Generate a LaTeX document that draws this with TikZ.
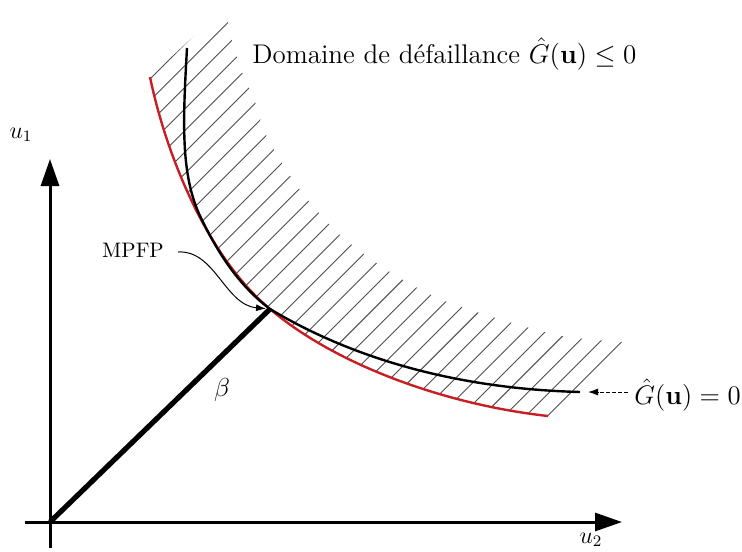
\RequirePackage{fix-cm}
\documentclass[tikz,border=0pt]{standalone}
\usetikzlibrary{arrows.meta}
\definecolor{curvered}{RGB}{200,30,35}
\begin{document}
\begin{tikzpicture}[x=0.5pt,y=-0.5pt,
  axis/.style={line width=1.5pt,-{Triangle[length=13.5pt,width=9pt]}},
  hatchline/.style={black!70,line width=0.45pt},
  limitcurve/.style={curvered,line width=1.2pt},
  approxcurve/.style={black,line width=1.2pt},
  betaline/.style={line width=2.6pt},
  lbl/.style={inner sep=0pt,font=\fontsize{13}{15}\selectfont},
  pointer/.style={line width=0.5pt,-{Latex[length=5pt,width=3.5pt]}}]
\useasboundingbox (0,0) rectangle (742,551);
% axes
\coordinate (O) at (50,522);
\coordinate (Ytop) at (50,159);
\coordinate (Ybot) at (50,548);
\coordinate (Xl) at (25,522);
\coordinate (Xr) at (622,522);
\draw[axis] (Ybot) -- (Ytop);
\draw[axis] (Xl) -- (Xr);
\node[lbl,font=\fontsize{12}{14}\selectfont] (u1) at (21,135) {$u_1$};
\node[lbl,font=\fontsize{12}{14}\selectfont] (u2) at (591,540) {$u_2$};
\coordinate (P) at (270,309);
\coordinate (Rtop) at (150,77);
\coordinate (Rend) at (548,416);
% hatching
\begin{scope}
\clip (Rtop) .. controls (165,150) and (205,255) .. (P)
  .. controls (337,366) and (448,405) .. (Rend)
  -- (622,342)
  -- plot[smooth] coordinates {(622,342) (562,336) (499,319) (440,299) (390,272) (340,235) (300,190) (267,137) (255,102) (240,67) (230,32) (225,7)}
  -- cycle;
\foreach \i in {0,...,34} {
  \pgfmathsetmacro\cc{229+21.6*\i}
  \draw[hatchline] (\cc+200,-200) -- (\cc-700,700);
}
\end{scope}
% limit state curves
\draw[limitcurve] (Rtop) .. controls (165,150) and (205,255) .. (P)
  .. controls (337,366) and (448,405) .. (Rend);
\coordinate (Btop) at (187,48);
\coordinate (Bmid) at (201,218);
\coordinate (Bend) at (580,392);
\draw[approxcurve] (Btop) .. controls (183,120) and (180,175) .. (Bmid)
  .. controls (217,251) and (238,285) .. (P)
  .. controls (330,345) and (430,388) .. (Bend);
% MPFP and beta
\draw[betaline] (O) -- (P);
\node[lbl] (beta) at (222,390) {$\beta$};
\node[lbl,font=\fontsize{10.5}{12}\selectfont,inner xsep=7pt] (mpfp) at (133,250) {MPFP};
\draw[pointer,shorten >=2pt] ([yshift=-1pt]mpfp.east) .. controls (215,250) and (225,305) .. (P);
% labels
\node[lbl,anchor=base west,font=\fontsize{13.5}{16}\selectfont] (dom) at (252,63) {Domaine de défaillance $\hat{G}(\mathbf{u})\le 0$};
\coordinate (gtip) at (588,392);
\node[lbl,anchor=base west,inner xsep=3pt,font=\fontsize{13.4}{16}\selectfont] (g0) at (628,404) {$\hat{G}(\mathbf{u})=0$};
\draw[pointer,dash pattern=on 2pt off 1pt] (g0.west |- gtip) -- (gtip);
\end{tikzpicture}
\end{document}
